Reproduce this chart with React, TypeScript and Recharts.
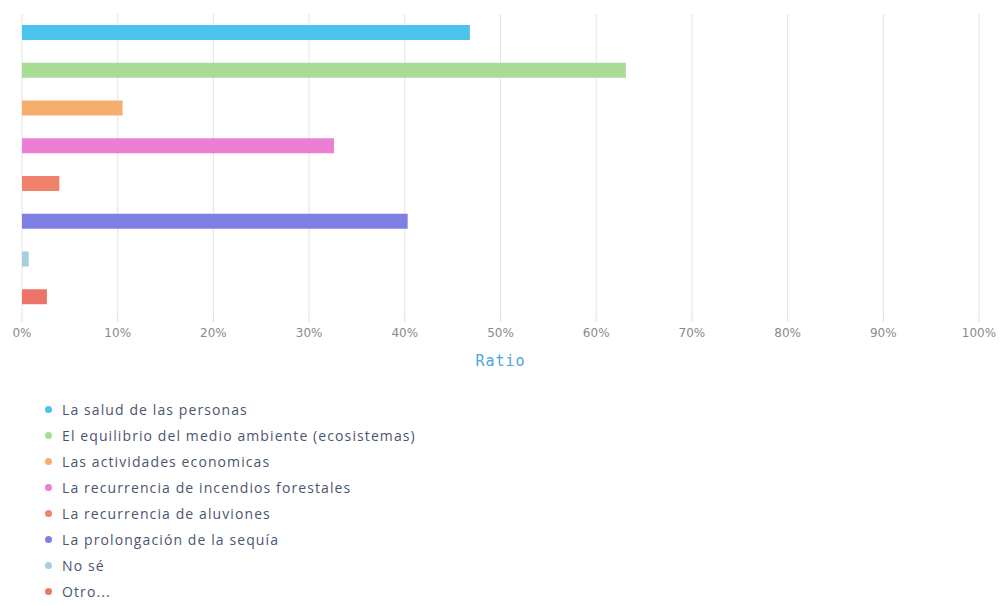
import { BarChart, Bar, XAxis, YAxis, CartesianGrid, Legend, Cell } from "recharts"

const categories = [
  "La salud de las personas",
  "El equilibrio del medio ambiente (ecosistemas)",
  "Las actividades economicas",
  "La recurrencia de incendios forestales",
  "La recurrencia de aluviones",
  "La prolongación de la sequía",
  "No sé",
  "Otro...",
]

const ratios = [0.468, 0.631, 0.105, 0.326, 0.039, 0.403, 0.007, 0.026]

const colors = ["#4cc3ec", "#a9dc95", "#f5ad6c", "#ea7fd4", "#f0826c", "#7f7fe3", "#a3cfe0", "#ee7468"]

const xTicks = [0, 0.1, 0.2, 0.3, 0.4, 0.5, 0.6, 0.7, 0.8, 0.9, 1]

const data = categories.map((name, i) => ({ name, value: ratios[i] }))

// legend list drawn below the plot
function LegendList() {
  return (
    <div style={{ fontFamily: "'Open Sans', sans-serif", fontSize: 14, letterSpacing: 1.1, color: "#4b5570" }}>
      {categories.map((c, i) => (
        <div key={c} style={{ display: "flex", alignItems: "center", height: 26 }}>
          <span
            style={{
              display: "inline-block",
              width: 7,
              height: 7,
              borderRadius: "50%",
              background: colors[i],
              marginRight: 10,
            }}
          />
          <span>{c}</span>
        </div>
      ))}
    </div>
  )
}

export default function App() {
  return (
    <div style={{ width: 1000, height: 605, background: "#fff", fontFamily: "'DejaVu Sans', sans-serif" }}>
      <style>{"body{margin:0}"}</style>
      <BarChart
        width={1000}
        height={605}
        data={data}
        layout="vertical"
        margin={{ top: 14, right: 21, left: 22, bottom: 234 }}
      >
        <CartesianGrid horizontal={false} stroke="#e4e4e4" />
        <XAxis
          type="number"
          domain={[0, 1]}
          ticks={xTicks}
          interval={0}
          tickFormatter={(v) => `${Math.round(v * 100)}%`}
          axisLine={false}
          tickLine={{ stroke: "#dddddd" }}
          tickSize={6}
          tickMargin={6}
          tick={{ fill: "#8a8a8a", fontSize: 12 }}
          height={55}
          label={{
            value: "Ratio",
            position: "insideBottom",
            offset: 5,
            fill: "#4aa6dc",
            fontSize: 15,
            letterSpacing: 1,
            fontFamily: "'DejaVu Sans Mono', monospace",
          }}
        />
        <YAxis type="category" dataKey="name" hide />
        <Legend
          layout="horizontal"
          verticalAlign="middle"
          align="center"
          wrapperStyle={{ top: 396, left: 45, width: 600 }}
          content={() => <LegendList />}
        />
        <Bar dataKey="value" barSize={15} isAnimationActive={false}>
          {data.map((d, i) => (
            <Cell key={d.name} fill={colors[i]} />
          ))}
        </Bar>
      </BarChart>
    </div>
  )
}
